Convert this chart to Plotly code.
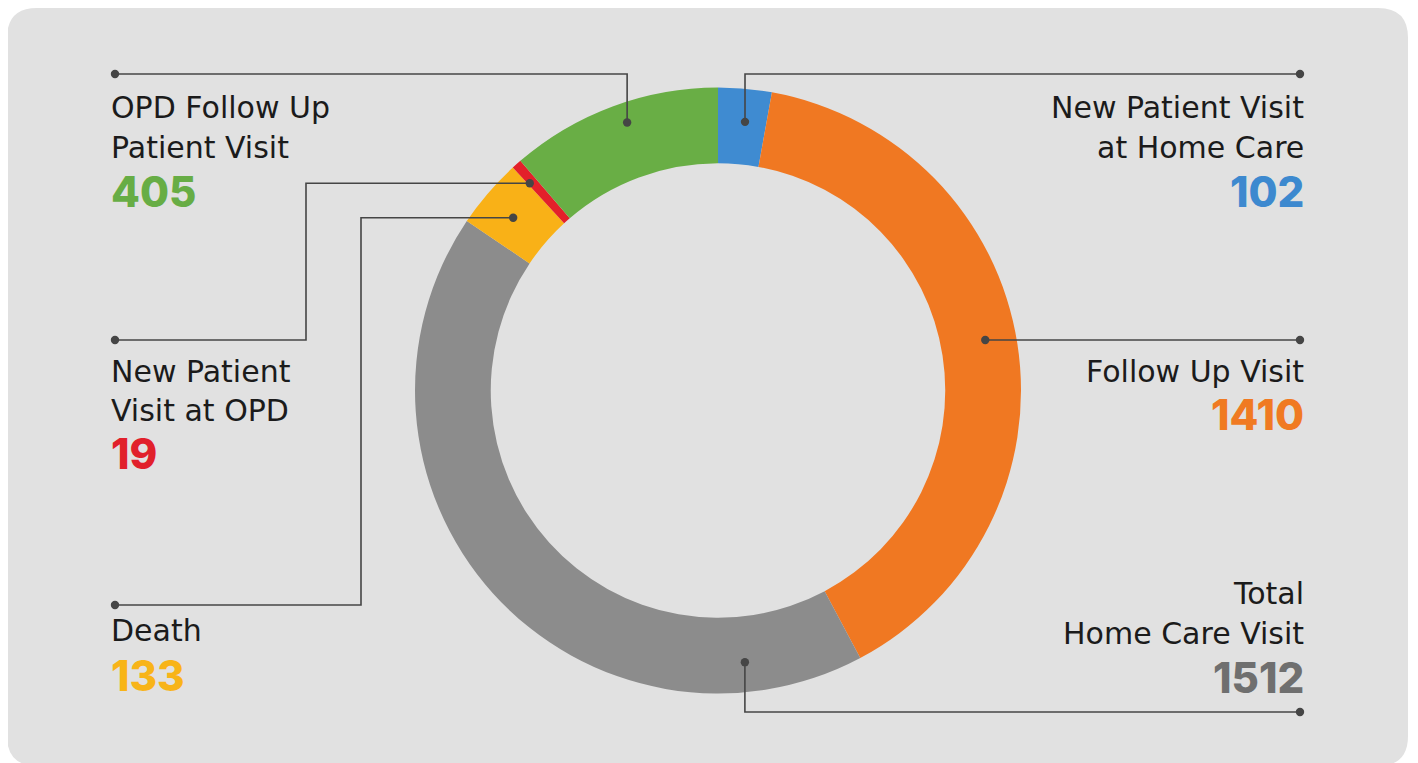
import math
import plotly.graph_objects as go

# ---------------- data ----------------
categories = ["New Patient Visit at Home Care", "Follow Up Visit", "Total Home Care Visit",
              "Death", "New Patient Visit at OPD", "OPD Follow Up Patient Visit"]
values = [102, 1410, 1512, 133, 19, 405]
label_lines = [["New Patient Visit", "at Home Care"], ["Follow Up Visit"],
               ["Total", "Home Care Visit"], ["Death"], ["New Patient", "Visit at OPD"],
               ["OPD Follow Up", "Patient Visit"]]
slice_colors = ["#3f8bd1", "#f07822", "#8c8c8c", "#f9b117", "#e3202a", "#69ae45"]
number_colors = ["#3d89cf", "#f07a22", "#6f6f6f", "#f8b418", "#e1202b", "#67ad45"]

# ---------------- layout constants (page pixels) ----------------
W, H = 1418, 763
OFF = 8                      # page offset of the plot div (body margin)
CX, CY, R_OUT = 718, 390.5, 303
HOLE = 0.75
LINE_COLOR = "#454545"
TEXT_COLOR = "#1b1b1b"
LABEL_FONT = "DejaVu Sans"
NUMBER_FONT = "Inter"
LEFT_X, RIGHT_X = 110, 1305
DOT_LEFT_X, DOT_RIGHT_X = 115, 1300

# where the leader dot sits inside each slice (fraction of slice, radius)
anchor_frac = [0.56, 0.487, 0.147, 0.46, 0.2, 0.54]
anchor_r = [270, 272, 273, 268, 280, 283]
# leader routes: side, kind, spec
routes = [
    ("right", "up", 74),
    ("right", "flat", None),
    ("right", "down", 712),
    ("left", "elbow", (361, 605)),
    ("left", "elbow", (306, 340)),
    ("left", "up", 74),
]
text_y = [[107, 147], [371], [593, 633], [630], [371, 410], [107, 147]]
num_y = [191, 414, 677, 675, 453, 191]

fig = go.Figure()

fig.add_trace(go.Pie(
    labels=categories, values=values, sort=False, direction="clockwise", rotation=0,
    hole=HOLE, marker=dict(colors=slice_colors, line=dict(width=0)),
    textinfo="none", hoverinfo="label+value", showlegend=False,
    domain=dict(x=[(CX - OFF - R_OUT) / W, (CX - OFF + R_OUT) / W],
                y=[1 - (CY - OFF + R_OUT) / H, 1 - (CY - OFF - R_OUT) / H]),
))

shapes = []
x0, y0, x1, y1, r = 7, 8, 1408, 766, 30
card = (f"M {x0+r},{y0} L {x1-r},{y0} Q {x1},{y0} {x1},{y0+r} L {x1},{y1-r} "
        f"Q {x1},{y1} {x1-r},{y1} L {x0+r},{y1} Q {x0},{y1} {x0},{y1-r} "
        f"L {x0},{y0+r} Q {x0},{y0} {x0+r},{y0} Z")
shapes.append(dict(type="path", path=card, xref="x", yref="y", fillcolor="#e1e1e1",
                   line=dict(width=0), layer="below"))


def dot(x, y, rr=4.2):
    shapes.append(dict(type="circle", xref="x", yref="y", x0=x - rr, x1=x + rr,
                       y0=y - rr, y1=y + rr, fillcolor=LINE_COLOR, line=dict(width=0)))


def seg(pts):
    path = "M " + " L ".join(f"{px},{py}" for px, py in pts)
    shapes.append(dict(type="path", path=path, xref="x", yref="y",
                       line=dict(color=LINE_COLOR, width=1.6)))


total = sum(values)
cum = 0
for i, v in enumerate(values):
    start = cum / total * 360
    span = v / total * 360
    cum += v
    ang = math.radians(start + anchor_frac[i] * span)
    ax = CX + anchor_r[i] * math.sin(ang)
    ay = CY - anchor_r[i] * math.cos(ang)
    side, kind, spec = routes[i]
    endx = DOT_RIGHT_X if side == "right" else DOT_LEFT_X
    if kind == "flat":
        pts = [(ax, ay), (endx, ay)]
    elif kind in ("up", "down"):
        pts = [(ax, ay), (ax, spec), (endx, spec)]
    else:
        ex, ey = spec
        pts = [(ax, ay), (ex, ay), (ex, ey), (endx, ey)]
    seg(pts)
    dot(ax, ay)
    dot(*pts[-1])

annotations = []
for i in range(len(values)):
    side = routes[i][0]
    xa = RIGHT_X if side == "right" else LEFT_X
    anchor = "right" if side == "right" else "left"
    for line, yy in zip(label_lines[i], text_y[i]):
        annotations.append(dict(x=xa, y=yy, xref="x", yref="y", text=line, showarrow=False,
                                xanchor=anchor, yanchor="middle", borderpad=0,
                                font=dict(family=LABEL_FONT, size=30, color=TEXT_COLOR)))
    annotations.append(dict(x=xa, y=num_y[i], xref="x", yref="y", text=str(values[i]),
                            showarrow=False, xanchor=anchor, yanchor="middle", borderpad=0,
                            font=dict(family=NUMBER_FONT, size=42, weight=800,
                                      color=number_colors[i])))

fig.update_layout(
    width=W, height=H, margin=dict(l=0, r=0, t=0, b=0),
    paper_bgcolor="#ffffff", plot_bgcolor="rgba(0,0,0,0)",
    xaxis=dict(range=[OFF, W + OFF], visible=False, fixedrange=True, domain=[0, 1]),
    yaxis=dict(range=[H + OFF, OFF], visible=False, fixedrange=True, domain=[0, 1]),
    shapes=shapes, annotations=annotations, showlegend=False,
)

fig.write_html("out.html")
